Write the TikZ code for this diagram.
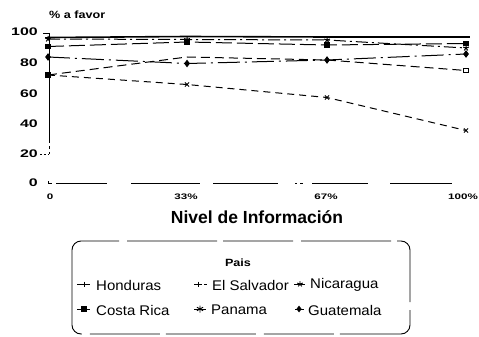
\documentclass[tikz,border=0pt]{standalone}
\usepackage{fontspec}
\setmainfont{Liberation Sans}
\newfontfamily\widesf[FakeStretch=1.45]{Liberation Sans}
\newfontfamily\midsf[FakeStretch=1.2]{Liberation Sans}
\newfontfamily\legsf[FakeStretch=1.07]{Liberation Sans}
\usetikzlibrary{plotmarks}
\begin{document}
\begin{tikzpicture}[x=1pt,y=-1pt,
  ser/.style={line width=1pt, black},
  sHon/.style={ser, line width=1.6pt},
  sCos/.style={ser, dash pattern=on 16pt off 5pt},
  sNic/.style={ser, dash pattern=on 12pt off 4pt on 2pt off 4pt},
  sGua/.style={ser, dash pattern=on 22pt off 5pt on 2pt off 5pt},
  sSal/.style={ser, dash pattern=on 9pt off 5pt},
  sPan/.style={ser, dash pattern=on 7pt off 5pt},
  ylab/.style={anchor=east, inner sep=0pt, font=\widesf\bfseries\fontsize{11}{11}\selectfont},
  xlab/.style={inner sep=0pt, font=\widesf\bfseries\fontsize{8}{8}\selectfont},
  legt/.style={anchor=west, inner sep=0pt, font=\legsf\fontsize{14}{14}\selectfont},
  axis/.style={line width=0.9pt, black}
]
\useasboundingbox (0,0) rectangle (479,337);

% axes
\draw[axis] (49,33) -- (49,140);
\draw[axis, dash pattern=on 3pt off 3pt] (49,140) -- (49,154);
\draw[axis] (43,33) -- (49,33);
\draw[axis, dash pattern=on 2pt off 2pt] (40,154) -- (49,154);
\draw[axis] (48,181) -- (48,183) -- (52,183)
  (56,183) -- (107,183) (131,183) -- (200,183) (213,183) -- (278,183)
  (295,183) -- (297,183) (300,183) -- (303,183) (312,183) -- (368,183)
  (390,183) -- (452,183);

% y tick labels
\node[ylab] (y100) at (38,32) {100};
\node[ylab] (y80) at (38,63) {80};
\node[ylab] (y60) at (38,94) {60};
\node[ylab] (y40) at (38,124) {40};
\node[ylab] (y20) at (38,154) {20};
\node[ylab] (y0) at (38,183) {0};

% x tick labels
\node[xlab] (x0) at (50,197) {0};
\node[xlab] (x33) at (186,197) {33\%};
\node[xlab] (x67) at (326,197) {67\%};
\node[xlab] (x100) at (463,197) {100\%};

% axis titles
\node[anchor=west, inner sep=0pt, font=\midsf\bfseries\fontsize{10.5}{10.5}\selectfont] (ytitle) at (49,15) {\% a favor};
\node[inner sep=0pt, font=\bfseries\fontsize{17.5}{17.5}\selectfont] (xtitle) at (257,217) {Nivel de Información};

% series
\draw[sHon] plot[mark=-, mark size=3.5pt] coordinates {(48,37.5) (187,36.5) (327,37) (466,37)};
\draw[sNic] plot[mark=star, mark size=3pt, mark options={solid,line width=1pt}] coordinates {(48,39) (187,39.5) (327,40) (466,48)};
\draw[sCos] plot[mark=square*, mark size=2.4pt, mark options={solid}] coordinates {(48,46.5) (187,42) (327,45) (466,43.5)};
\draw[sGua] plot[mark=diamond*, mark size=3pt, mark options={solid}] coordinates {(48,57) (187,63.5) (327,60) (466,54)};
\draw[sSal] (48,75) -- (187,57) -- (327,60) -- (466,70.5);
\draw[sPan] plot[mark=x, mark size=3pt, mark options={solid,line width=1pt}] coordinates {(48,75) (187,84.5) (327,97.5) (466,130.5)};
\path plot[mark=square*, mark size=2.4pt] coordinates {(48,75)};
\path plot[mark=square, mark size=2.4pt, mark options={line width=1pt}] coordinates {(466,70.5)};

% legend
\draw[line width=0.9pt, rounded corners=9pt, dash pattern=on 90pt off 8pt on 70pt off 6pt] (72,241) rectangle (410,334);
\node[inner sep=0pt, font=\midsf\bfseries\fontsize{10.5}{10.5}\selectfont] (pais) at (238,263) {Pais};

\draw[ser] (77,284) -- (90,284);
\path plot[mark=|, mark size=2.5pt, mark options={line width=1pt}] coordinates {(84,284)};
\node[legt] (lHon) at (96,285) {Honduras};

\draw[ser, dash pattern=on 3pt off 2pt] (194,284) -- (207,284);
\path plot[mark=+, mark size=2.5pt, mark options={line width=0.8pt}] coordinates {(198,284)};
\node[legt] (lSal) at (212,285) {El Salvador};

\draw[ser] (294,284) -- (305,284);
\path plot[mark=star, mark size=3pt, mark options={line width=0.9pt}] coordinates {(300,284)};
\node[legt] (lNic) at (310,285) {Nicaragua};

\draw[ser] (77,309) -- (90,309);
\path plot[mark=square*, mark size=2.5pt] coordinates {(84,309)};
\node[legt] (lCos) at (96,310) {Costa Rica};

\draw[ser] (194,309) -- (206,309);
\path plot[mark=asterisk, mark size=3.5pt, mark options={line width=0.9pt}] coordinates {(200,309)};
\node[legt] (lPan) at (211,310) {Panama};

\draw[ser] (295,309) -- (304,309);
\path plot[mark=diamond*, mark size=3pt] coordinates {(299,309)};
\node[legt] (lGua) at (308,310) {Guatemala};
\end{tikzpicture}
\end{document}
